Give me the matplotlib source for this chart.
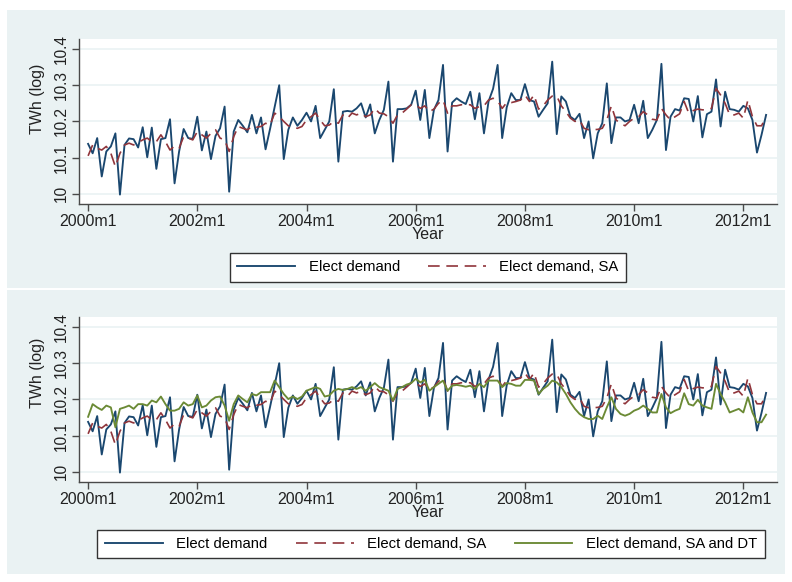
import numpy as np
import pandas as pd
import matplotlib
matplotlib.use("Agg")
import matplotlib.pyplot as plt
from matplotlib.patches import Rectangle

plt.rcParams['font.family'] = ['Liberation Sans', 'DejaVu Sans']

# ---------------- data (monthly, 2000m1 .. 2012m6) ----------------
months = pd.period_range("2000-01", "2012-06", freq="M")

elect_demand = [
    10.138, 10.112, 10.154, 10.048, 10.117, 10.131, 10.167, 9.998, 10.135, 10.153, 10.151, 10.128,
    10.184, 10.101, 10.183, 10.069, 10.151, 10.154, 10.206, 10.029, 10.117, 10.179, 10.154, 10.152,
    10.213, 10.120, 10.172, 10.096, 10.160, 10.181, 10.241, 10.006, 10.172, 10.204, 10.188, 10.170,
    10.218, 10.167, 10.211, 10.123, 10.180, 10.240, 10.300, 10.096, 10.177, 10.211, 10.188, 10.204,
    10.224, 10.200, 10.243, 10.154, 10.177, 10.200, 10.289, 10.089, 10.227, 10.229, 10.227, 10.236,
    10.250, 10.211, 10.247, 10.167, 10.204, 10.232, 10.310, 10.089, 10.234, 10.234, 10.236, 10.246,
    10.285, 10.204, 10.287, 10.154, 10.232, 10.259, 10.356, 10.117, 10.252, 10.264, 10.255, 10.248,
    10.282, 10.206, 10.278, 10.167, 10.255, 10.290, 10.356, 10.154, 10.239, 10.278, 10.259, 10.259,
    10.303, 10.259, 10.255, 10.213, 10.232, 10.250, 10.365, 10.165, 10.269, 10.255, 10.213, 10.204,
    10.221, 10.154, 10.200, 10.098, 10.167, 10.195, 10.305, 10.140, 10.211, 10.211, 10.200, 10.204,
    10.246, 10.195, 10.257, 10.154, 10.177, 10.204, 10.359, 10.121, 10.213, 10.234, 10.230, 10.264,
    10.262, 10.200, 10.270, 10.156, 10.220, 10.227, 10.316, 10.186, 10.282, 10.234, 10.232, 10.227,
    10.243, 10.236, 10.204, 10.114, 10.163, 10.218,
]

elect_demand_sa = [
    10.105, 10.135, 10.126, 10.121, 10.131, 10.112, 10.075, 10.112, 10.135, 10.140, 10.135, 10.142,
    10.149, 10.154, 10.144, 10.144, 10.163, 10.144, 10.121, 10.132, 10.126, 10.158, 10.154, 10.149,
    10.172, 10.163, 10.154, 10.167, 10.177, 10.154, 10.149, 10.117, 10.158, 10.186, 10.181, 10.177,
    10.186, 10.184, 10.186, 10.195, 10.190, 10.223, 10.213, 10.200, 10.188, 10.184, 10.181, 10.186,
    10.204, 10.213, 10.223, 10.204, 10.188, 10.190, 10.200, 10.195, 10.218, 10.209, 10.223, 10.218,
    10.223, 10.213, 10.218, 10.236, 10.223, 10.221, 10.213, 10.195, 10.218, 10.223, 10.234, 10.246,
    10.246, 10.236, 10.243, 10.227, 10.234, 10.250, 10.259, 10.223, 10.243, 10.243, 10.246, 10.246,
    10.246, 10.236, 10.241, 10.243, 10.259, 10.264, 10.257, 10.236, 10.252, 10.252, 10.255, 10.259,
    10.273, 10.255, 10.273, 10.234, 10.243, 10.259, 10.270, 10.270, 10.243, 10.227, 10.209, 10.200,
    10.204, 10.181, 10.177, 10.177, 10.178, 10.181, 10.204, 10.243, 10.204, 10.195, 10.188, 10.200,
    10.209, 10.213, 10.227, 10.218, 10.206, 10.204, 10.236, 10.218, 10.204, 10.213, 10.221, 10.255,
    10.223, 10.230, 10.234, 10.232, 10.232, 10.236, 10.291, 10.273, 10.250, 10.218, 10.218, 10.223,
    10.209, 10.259, 10.213, 10.188, 10.188, 10.213,
]

elect_demand_sa_dt = [
    10.152, 10.187, 10.178, 10.171, 10.183, 10.178, 10.123, 10.174, 10.178, 10.183, 10.174, 10.187,
    10.187, 10.183, 10.197, 10.192, 10.208, 10.187, 10.169, 10.169, 10.174, 10.192, 10.183, 10.187,
    10.211, 10.178, 10.183, 10.197, 10.206, 10.208, 10.183, 10.141, 10.187, 10.211, 10.201, 10.192,
    10.215, 10.211, 10.220, 10.220, 10.220, 10.252, 10.234, 10.215, 10.201, 10.208, 10.201, 10.208,
    10.224, 10.229, 10.234, 10.229, 10.208, 10.211, 10.224, 10.229, 10.226, 10.229, 10.234, 10.229,
    10.234, 10.224, 10.234, 10.245, 10.234, 10.229, 10.224, 10.197, 10.229, 10.234, 10.241, 10.245,
    10.257, 10.247, 10.254, 10.224, 10.234, 10.243, 10.252, 10.224, 10.238, 10.240, 10.238, 10.235,
    10.238, 10.229, 10.243, 10.234, 10.252, 10.252, 10.252, 10.234, 10.245, 10.243, 10.238, 10.238,
    10.254, 10.254, 10.252, 10.215, 10.229, 10.238, 10.252, 10.247, 10.234, 10.215, 10.192, 10.174,
    10.160, 10.151, 10.146, 10.146, 10.155, 10.146, 10.178, 10.206, 10.174, 10.160, 10.155, 10.160,
    10.169, 10.174, 10.183, 10.174, 10.164, 10.164, 10.215, 10.178, 10.162, 10.169, 10.174, 10.217,
    10.187, 10.183, 10.199, 10.183, 10.178, 10.174, 10.243, 10.215, 10.192, 10.164, 10.169, 10.174,
    10.164, 10.206, 10.164, 10.137, 10.137, 10.158,
]

xtick_months = [0, 24, 48, 72, 96, 120, 144]
xtick_labels = ["2000m1", "2002m1", "2004m1", "2006m1", "2008m1", "2010m1", "2012m1"]
ytick_values = [10.0, 10.1, 10.2, 10.3, 10.4]
ytick_labels = ["10", "10.1", "10.2", "10.3", "10.4"]

# ---------------- style ----------------
W, H = 792, 582
BG = "#eaf2f3"
NAVY = "#1a476f"
MAROON = "#90353b"
GREEN = "#6b8a35"
AXC = "#4a4a4a"
TXT = "#222222"

fig = plt.figure(figsize=(W / 100, H / 100), dpi=100)
fig.patch.set_facecolor("white")


def fx(px):
    return px / W


def fy(py):
    return 1 - py / H


# graph regions (light background behind each panel)
for (x0, y0, x1, y1) in [(7, 10, 785, 288), (7, 290, 785, 574)]:
    fig.patches.append(Rectangle((fx(x0), fy(y1)), fx(x1) - fx(x0), fy(y0) - fy(y1),
                                 transform=fig.transFigure, facecolor=BG, edgecolor="none",
                                 zorder=-10))

x = np.arange(len(months))


def make_axes(top, bottom, ytitle_y):
    ax = fig.add_axes([fx(79), fy(bottom), fx(777) - fx(79), fy(top) - fy(bottom)])
    ax.set_zorder(1)
    ax.set_facecolor("white")
    ax.set_xlim(-2.0, 151.4)
    ax.set_ylim(9.972, 10.4276)
    for s in ["top", "right"]:
        ax.spines[s].set_visible(False)
    for s in ["left", "bottom"]:
        ax.spines[s].set_color(AXC)
        ax.spines[s].set_linewidth(1.0)
    ax.set_xticks(xtick_months)
    ax.set_xticklabels(xtick_labels, fontsize=11.5, color=TXT)
    ax.set_yticks(ytick_values)
    ax.set_yticklabels(ytick_labels, fontsize=11.2, color=TXT, rotation=90, va="center")
    ax.tick_params(axis="both", direction="out", length=5, width=1, color=AXC, pad=2)
    ax.grid(axis="y", color=BG, linewidth=1.2)
    ax.set_axisbelow(True)
    ax.set_xlabel("Year", fontsize=11.5, labelpad=-1, color=TXT)
    ax.set_ylabel("TWh (log)", fontsize=11.5, color=TXT)
    ax.yaxis.set_label_coords(-0.048, (bottom - ytitle_y) / (bottom - top))
    return ax


ax1 = make_axes(39, 204, 99)
ax1.plot(x, elect_demand, color=NAVY, lw=1.35, label="Elect demand", zorder=3)
ax1.plot(x, elect_demand_sa, color=MAROON, lw=1.2, ls=(0, (7, 4)), label="Elect demand, SA", zorder=4)

ax2 = make_axes(317, 482, 373)
ax2.plot(x, elect_demand, color=NAVY, lw=1.35, label="Elect demand", zorder=3)
ax2.plot(x, elect_demand_sa, color=MAROON, lw=1.2, ls=(0, (7, 4)), label="Elect demand, SA", zorder=4)
ax2.plot(x, elect_demand_sa_dt, color=GREEN, lw=1.35, label="Elect demand, SA and DT", zorder=5)


def legend_box(ax, cx, cy, colspace):
    h, l = ax.get_legend_handles_labels()
    leg = fig.legend(h, l, loc="center", ncol=len(h),
                     bbox_to_anchor=(fx(cx), fy(cy)),
                     bbox_transform=fig.transFigure,
                     frameon=True, fancybox=False, fontsize=10.7, handlelength=3.9,
                     columnspacing=colspace, borderpad=0.5, handletextpad=0.9,
                     borderaxespad=0)
    fr = leg.get_frame()
    fr.set_edgecolor("#333333")
    fr.set_linewidth(1.0)
    fr.set_facecolor("white")
    fr.set_alpha(1)
    leg.set_zorder(5)
    return leg


legend_box(ax1, 428, 267.5, 1.9)
legend_box(ax2, 431, 544, 1.9)

fig.savefig("out.png", dpi=100, facecolor=fig.get_facecolor())
